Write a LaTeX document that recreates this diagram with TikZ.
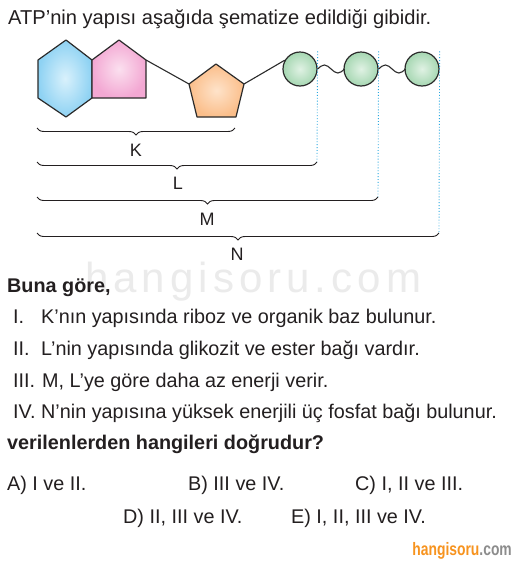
\documentclass[tikz,border=0pt]{standalone}
\usepackage{fontspec}
\setmainfont{Liberation Sans}
\usetikzlibrary{decorations.pathreplacing,shapes.geometric}
\definecolor{ink}{HTML}{231F20}
\definecolor{bondc}{HTML}{2B2B2B}
\definecolor{hexout}{HTML}{8ED2F3}
\definecolor{hexin}{HTML}{D9F1FC}
\definecolor{pinkout}{HTML}{F3A8D3}
\definecolor{pinkin}{HTML}{FBE0EF}
\definecolor{orout}{HTML}{FBBE8A}
\definecolor{orin}{HTML}{FEE3CA}
\definecolor{grout}{HTML}{A6D7B2}
\definecolor{grin}{HTML}{E0F2E4}
\definecolor{guidec}{HTML}{29A8E0}
\definecolor{logoorange}{HTML}{F7931E}
\definecolor{logogray}{HTML}{8C8C8C}
\tikzset{
  shapeline/.style={draw=bondc, line width=1.2pt, line join=round},
  bond/.style={draw=bondc, line width=1.1pt},
  phos/.style={circle, shapeline, minimum size=34pt, inner sep=0pt, inner color=grin, outer color=grout},
  guide/.style={draw=guidec, dotted, line width=0.9pt},
  bracestyle/.style={draw=ink, line width=0.9pt, decorate, decoration={brace, amplitude=7pt}},
  lab/.style={anchor=base, inner sep=0pt, text=ink, font=\fontsize{18}{18}\selectfont},
  txt/.style={anchor=base west, inner sep=0pt, text=ink, font=\fontsize{19.8}{22}\selectfont},
  btxt/.style={txt, font=\fontsize{19.8}{22}\selectfont\bfseries},
}
\begin{document}
\begin{tikzpicture}[x=1pt, y=-1pt]
\useasboundingbox (0,0) rectangle (514,563);
\fill[white] (0,0) rectangle (514,563);

% watermark
\node[anchor=base west, inner sep=0pt, text=black!8,
  font=\fontsize{42}{42}\selectfont\addfontfeature{LetterSpace=12}] (wm) at (85,292) {hangisoru.com};

% hexagon (base)
\coordinate (h1) at (66,40);
\coordinate (h2) at (92,60);
\coordinate (h3) at (92,98);
\coordinate (h4) at (66,117);
\coordinate (h5) at (38,98);
\coordinate (h6) at (38,60);
\path[shapeline, inner color=hexin, outer color=hexout] (h1)--(h2)--(h3)--(h4)--(h5)--(h6)--cycle;
% pentagon of base
\coordinate (g1) at (119,40);
\coordinate (g2) at (146,60);
\coordinate (g3) at (146,98);
\path[shapeline, inner color=pinkin, outer color=pinkout] (h3)--(h2)--(g1)--(g2)--(g3)--cycle;
% ribose
\coordinate (o1) at (216,64);
\coordinate (o2) at (244,84);
\coordinate (o3) at (236,117);
\coordinate (o4) at (197,117);
\coordinate (o5) at (189,84);
\path[shapeline, inner color=orin, outer color=orout] (o1)--(o2)--(o3)--(o4)--(o5)--cycle;
% phosphates
\node[phos] (p1) at (300,69) {};
\node[phos] (p2) at (361,69) {};
\node[phos] (p3) at (422,69) {};
% bonds
\draw[bond] (g2) -- (o5);
\draw[bond] (o2) -- (p1.150);
\draw[bond] (p1.east) sin ++(6.75,-4) cos ++(6.75,4) sin ++(6.75,4) cos ++(6.75,-4);
\draw[bond] (p2.east) sin ++(6.75,-4) cos ++(6.75,4) sin ++(6.75,4) cos ++(6.75,-4);

% brace ends
\coordinate (Kl) at (37,128);  \coordinate (Kr) at (235,128);
\coordinate (Ll) at (37,162);  \coordinate (Lr) at (317,162);
\coordinate (Ml) at (37,197);  \coordinate (Mr) at (378,197);
\coordinate (Nl) at (37,233);  \coordinate (Nr) at (439,233);

% dotted guides
\draw[guide] (p1.north -| p1.east) -- (Lr);
\draw[guide] (p2.north -| p2.east) -- (Mr);
\draw[guide] (p3.north -| p3.east) -- (Nr);

% braces
\draw[bracestyle] (Kr) -- (Kl);
\draw[bracestyle] (Lr) -- (Ll);
\draw[bracestyle] (Mr) -- (Ml);
\draw[bracestyle] (Nr) -- (Nl);
\node[lab] (K) at (136,156) {K};
\node[lab] (L) at (178,189) {L};
\node[lab] (M) at (207,225) {M};
\node[lab] (N) at (237,260) {N};

% texts
\node[txt, font=\fontsize{20.1}{22}\selectfont] (title) at (8,24) {ATP’nin yapısı aşağıda şematize edildiği gibidir.};
\node[btxt] (q1) at (7,292) {Buna göre,};
\node[txt] (n1) at (13,323) {I.};
\node[txt] (s1) at (41,323) {K’nın yapısında riboz ve organik baz bulunur.};
\node[txt] (n2) at (13,355) {II.};
\node[txt] (s2) at (41,355) {L’nin yapısında glikozit ve ester bağı vardır.};
\node[txt] (n3) at (13,387) {III.};
\node[txt] (s3) at (42,387) {M, L’ye göre daha az enerji verir.};
\node[txt] (n4) at (13,418) {IV.};
\node[txt] (s4) at (41,418) {N’nin yapısına yüksek enerjili üç fosfat bağı bulunur.};
\node[btxt] (q2) at (7,449) {verilenlerden hangileri doğrudur?};

\node[txt] (A) at (7,490) {A) I ve II.};
\node[txt] (B) at (188,490) {B) III ve IV.};
\node[txt] (C) at (355,490) {C) I, II ve III.};
\node[txt] (D) at (123,523) {D) II, III ve IV.};
\node[txt] (E) at (291,523) {E) I, II, III ve IV.};

% logo
\node[anchor=base east, inner sep=0pt, font=\fontsize{18}{18}\selectfont\bfseries] (logo) at (512,555)
  {\scalebox{0.77}[1]{\textcolor{logoorange}{hangisoru}\textcolor{logogray}{.com}}};
\end{tikzpicture}
\end{document}
